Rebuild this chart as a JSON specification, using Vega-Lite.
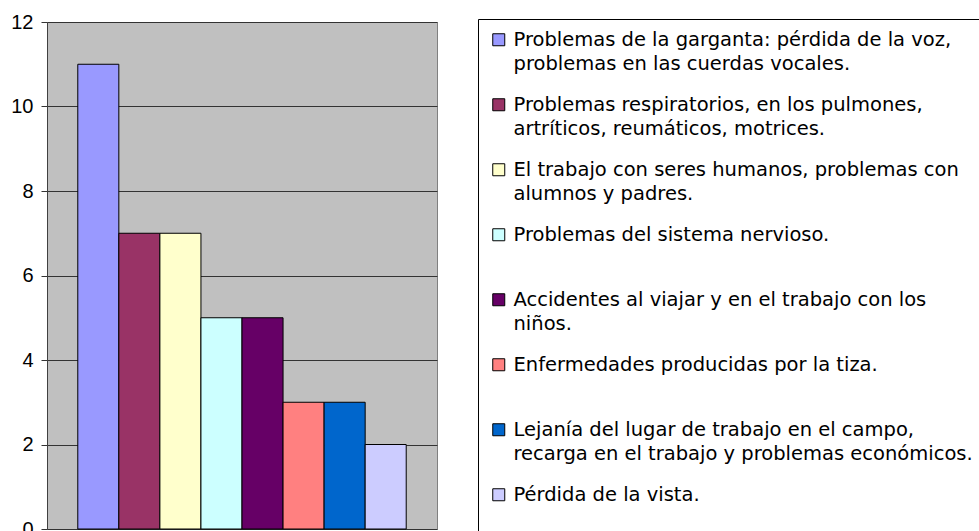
{
  "$schema": "https://vega.github.io/schema/vega-lite/v6.json",
  "width": 390,
  "height": 507,
  "autosize": {"type": "none"},
  "padding": {"left": 47, "top": 22, "right": 542, "bottom": 2},
  "background": "white",
  "data": {
    "values": [
      {"cause": "Problemas de la garganta: pérdida de la voz,\nproblemas en las cuerdas vocales.", "value": 11},
      {"cause": "Problemas respiratorios, en los pulmones,\nartríticos, reumáticos, motrices.", "value": 7},
      {"cause": "El trabajo con seres humanos, problemas con\nalumnos y padres.", "value": 7},
      {"cause": "Problemas del sistema nervioso.", "value": 5},
      {"cause": "Accidentes al viajar y en el trabajo con los\nniños.", "value": 5},
      {"cause": "Enfermedades producidas por la tiza.", "value": 3},
      {"cause": "Lejanía del lugar de trabajo en el campo,\nrecarga en el trabajo y problemas económicos.", "value": 3},
      {"cause": "Pérdida de la vista.", "value": 2}
    ]
  },
  "mark": {"type": "bar", "stroke": "black", "strokeWidth": 1},
  "encoding": {
    "x": {
      "field": "cause",
      "type": "nominal",
      "sort": null,
      "scale": {"paddingInner": 0, "paddingOuter": 0.75},
      "axis": null
    },
    "y": {
      "field": "value",
      "type": "quantitative",
      "scale": {"domain": [0, 12], "nice": false},
      "axis": {
        "title": null,
        "values": [0, 2, 4, 6, 8, 10, 12],
        "labelFont": "Liberation Sans",
        "labelFontSize": 20,
        "labelColor": "black",
        "labelPadding": 8,
        "tickSize": 6,
        "tickColor": "#333333",
        "domainColor": "#404040",
        "gridColor": "#333333",
        "gridOpacity": 1,
        "grid": true
      }
    },
    "color": {
      "field": "cause",
      "type": "nominal",
      "sort": null,
      "scale": {
        "domain": [
          "Problemas de la garganta: pérdida de la voz,\nproblemas en las cuerdas vocales.",
          "Problemas respiratorios, en los pulmones,\nartríticos, reumáticos, motrices.",
          "El trabajo con seres humanos, problemas con\nalumnos y padres.",
          "Problemas del sistema nervioso.",
          "Accidentes al viajar y en el trabajo con los\nniños.",
          "Enfermedades producidas por la tiza.",
          "Lejanía del lugar de trabajo en el campo,\nrecarga en el trabajo y problemas económicos.",
          "Pérdida de la vista."
        ],
        "range": ["#9999FF", "#993366", "#FFFFCC", "#CCFFFF", "#660066", "#FF8080", "#0066CC", "#CCCCFF"]
      },
      "legend": {
        "title": null,
        "orient": "none",
        "legendX": 431,
        "legendY": -3,
        "padding": 11,
        "strokeColor": "black",
        "fillColor": "white",
        "symbolType": "square",
        "symbolSize": 144,
        "symbolStrokeColor": "black",
        "symbolStrokeWidth": 1,
        "symbolOpacity": 1,
        "labelFont": "DejaVu Sans",
        "labelFontSize": 19.5,
        "labelColor": "black",
        "labelOffset": 5,
        "labelLimit": 800,
        "rowPadding": 20,
        "labelExpr": "length(split(datum.label, '\\n')) > 1 ? split(datum.label, '\\n') : [datum.label, ' ']"
      }
    }
  },
  "config": {
    "view": {"fill": "#C0C0C0", "stroke": "#808080", "strokeWidth": 1},
    "style": {"guide-label": {"lineHeight": 24}}
  }
}
